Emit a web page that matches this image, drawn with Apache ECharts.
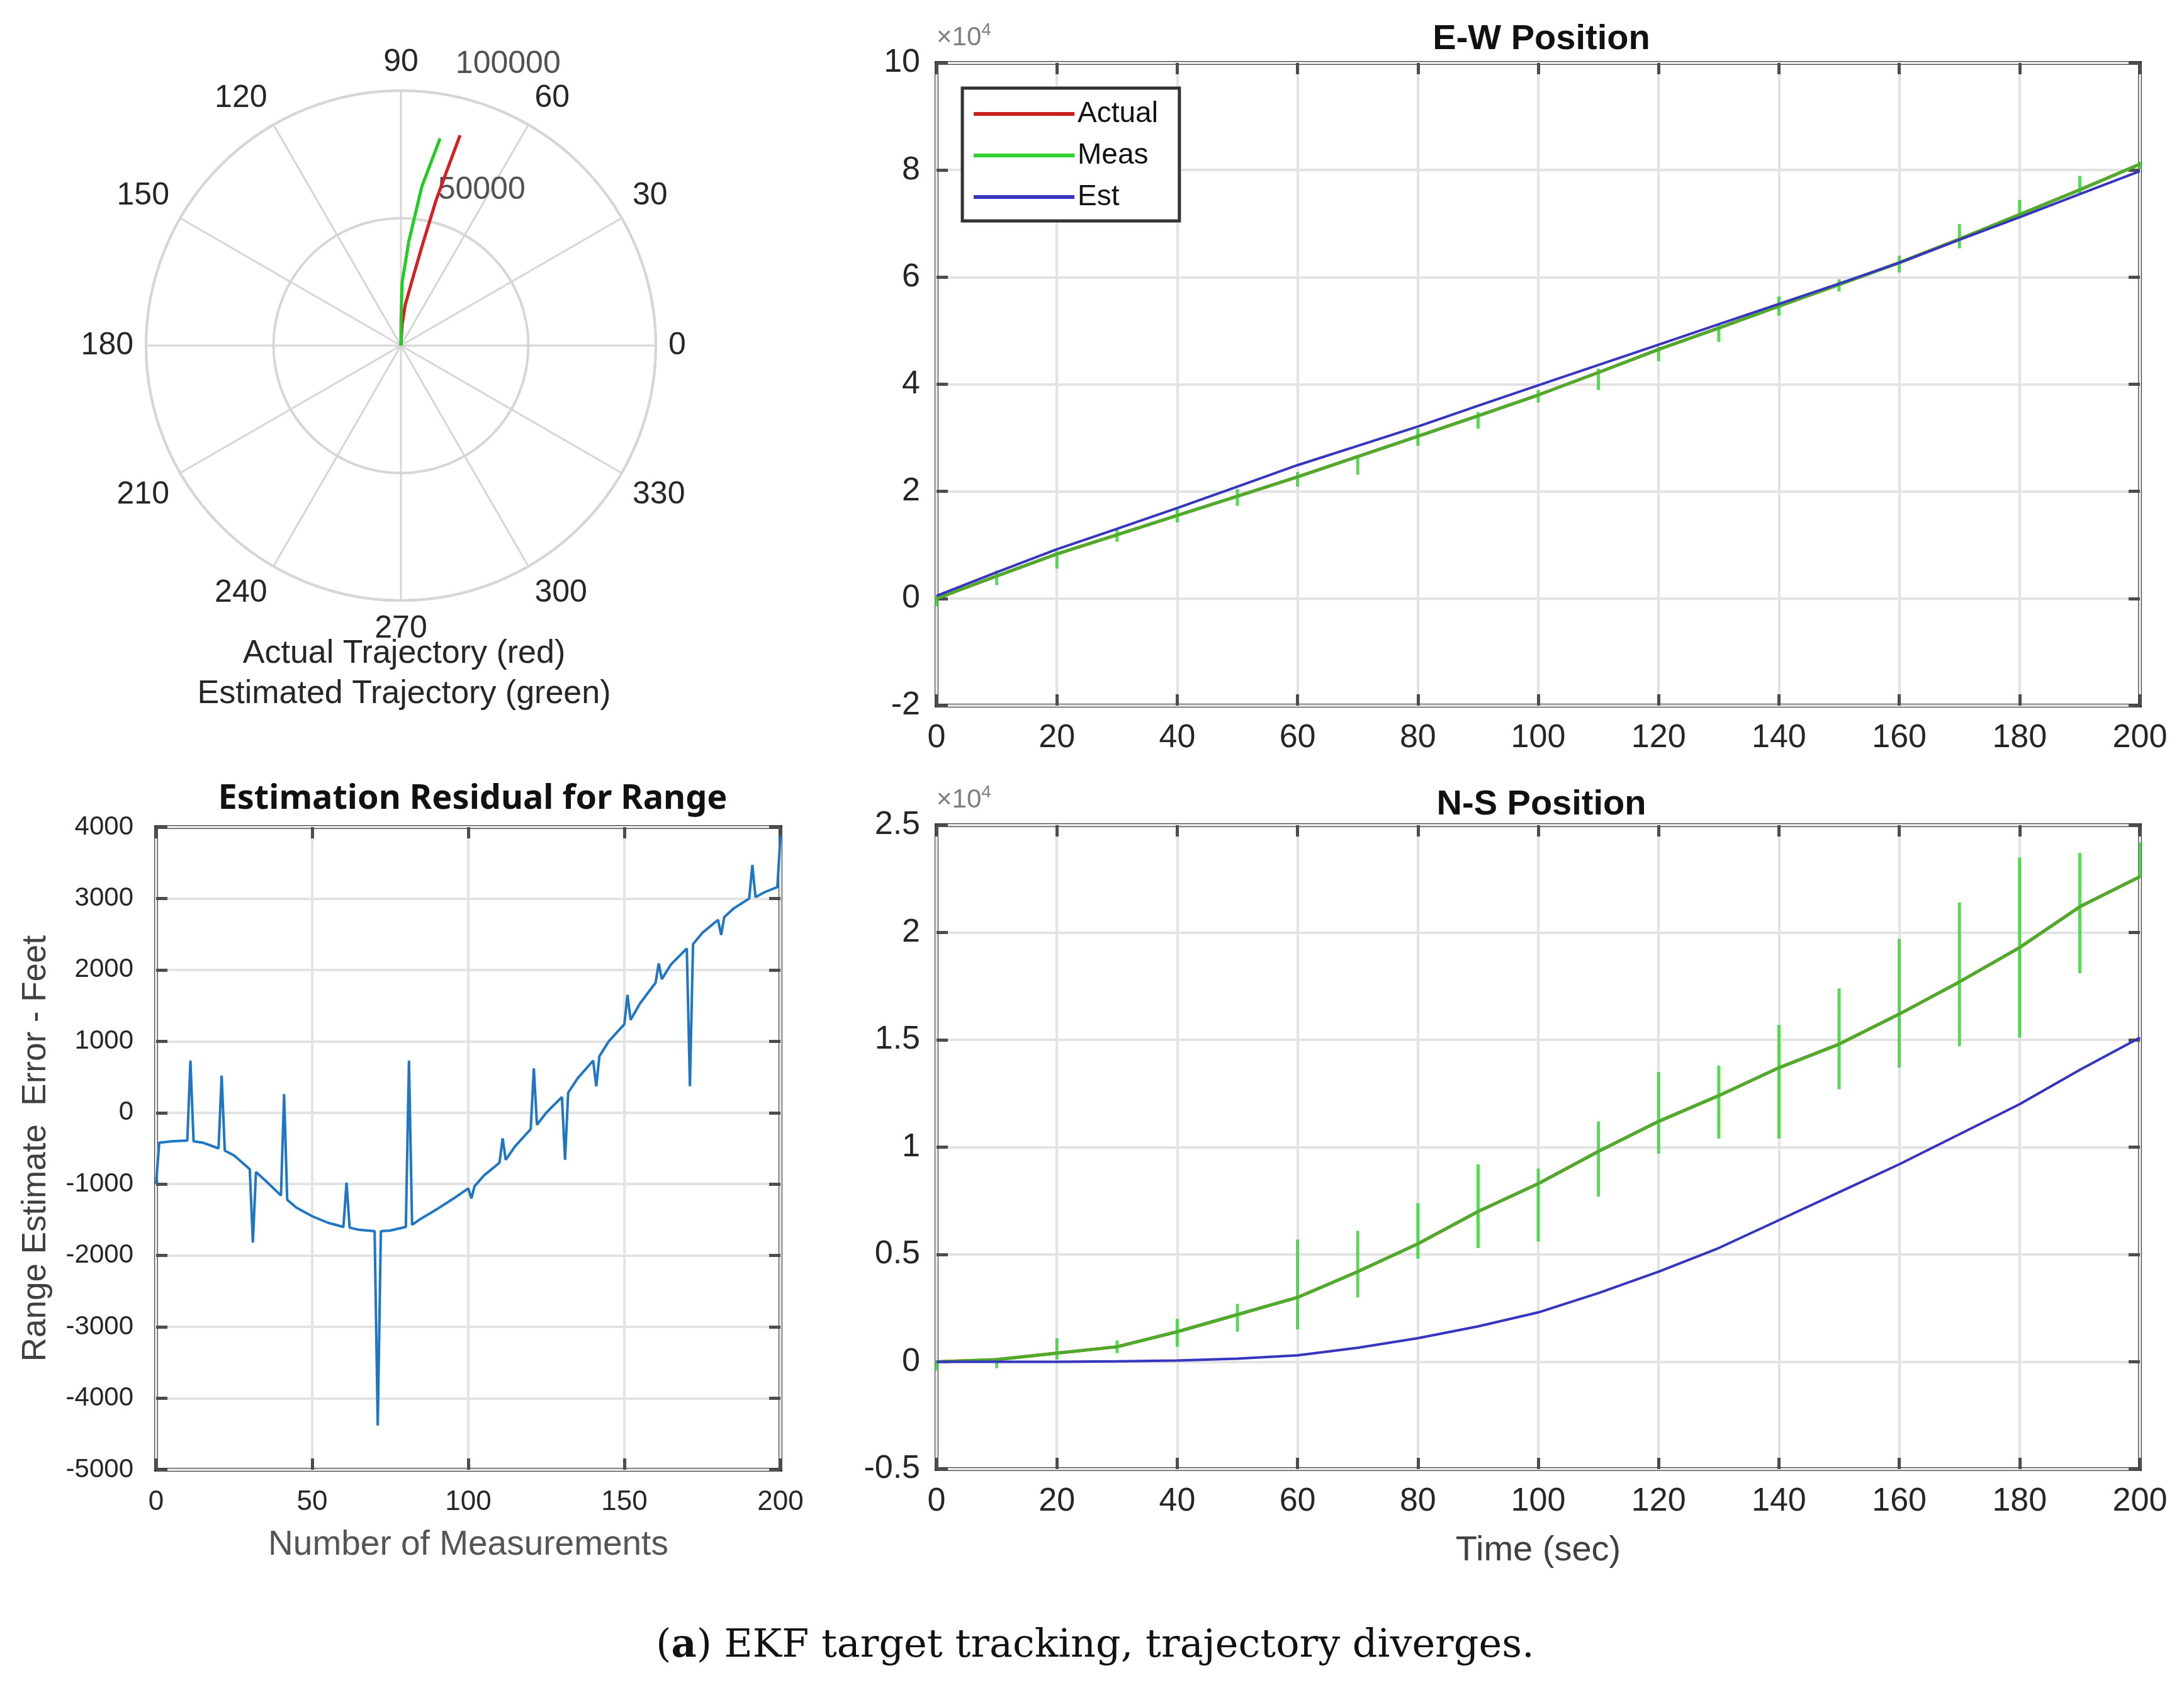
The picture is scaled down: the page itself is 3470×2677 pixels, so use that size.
<!DOCTYPE html>
<html>
<head>
<meta charset="utf-8">
<script src="https://cdn.jsdelivr.net/npm/echarts@6/dist/echarts.min.js"></script>
<style>
  html, body { margin: 0; padding: 0; background: #fff; }
  #chart { width: 3470px; height: 2677px; }
</style>
</head>
<body>
<div id="chart"></div>
<script>
// time axis shared by the E-W and N-S plots (sec)
const tSec = [0, 10, 20, 30, 40, 50, 60, 70, 80, 90, 100, 110, 120, 130, 140, 150, 160, 170, 180, 190, 200]

// E-W position, units of 1e4 ft
const ewActual = [0, 0.42, 0.83, 1.19, 1.55, 1.91, 2.27, 2.65, 3.03, 3.41, 3.80, 4.22, 4.65, 5.05, 5.46, 5.86, 6.27, 6.71, 7.17, 7.63, 8.11]
const ewMeasHi = [0.05, 0.52, 0.88, 1.28, 1.69, 2.04, 2.36, 2.67, 3.17, 3.48, 3.89, 4.29, 4.70, 5.10, 5.64, 5.96, 6.40, 6.99, 7.44, 7.89, 8.16]
const ewMeasLo = [-0.15, 0.25, 0.56, 1.06, 1.42, 1.73, 2.09, 2.31, 2.85, 3.17, 3.66, 3.89, 4.43, 4.79, 5.28, 5.73, 6.09, 6.54, 7.12, 7.57, 8.02]
const ewEst = [0.05, 0.49, 0.92, 1.30, 1.69, 2.09, 2.49, 2.85, 3.21, 3.60, 3.98, 4.36, 4.74, 5.12, 5.50, 5.88, 6.27, 6.70, 7.12, 7.55, 7.98]

// N-S position, units of 1e4 ft
const nsActual = [0, 0.01, 0.04, 0.07, 0.14, 0.22, 0.30, 0.42, 0.55, 0.70, 0.83, 0.98, 1.12, 1.24, 1.37, 1.48, 1.62, 1.77, 1.93, 2.12, 2.26]
const nsMeasHi = [0.0, 0.01, 0.11, 0.10, 0.20, 0.27, 0.57, 0.61, 0.74, 0.92, 0.90, 1.12, 1.35, 1.38, 1.57, 1.74, 1.97, 2.14, 2.35, 2.37, 2.42]
const nsMeasLo = [-0.04, -0.03, 0.01, 0.04, 0.07, 0.14, 0.15, 0.30, 0.48, 0.53, 0.56, 0.77, 0.97, 1.04, 1.04, 1.27, 1.37, 1.47, 1.51, 1.81, 2.26]
const nsEst = [0, 0, 0, 0.002, 0.006, 0.015, 0.03, 0.065, 0.11, 0.165, 0.23, 0.32, 0.42, 0.53, 0.66, 0.79, 0.92, 1.06, 1.20, 1.36, 1.51]

// range residual (ft) vs measurement number
const resIdx = [0, 1, 5, 10, 11, 12, 15, 20, 21, 22, 25, 30, 31, 32, 35, 40, 41, 42, 45, 50, 55, 60, 61, 62, 65, 70, 71, 72, 75, 80, 81, 82, 85, 90, 95, 100, 101, 102, 105, 110, 111, 112, 115, 120, 121, 122, 125, 130, 131, 132, 135, 140, 141, 142, 145, 150, 151, 152, 155, 160, 161, 162, 165, 170, 171, 172, 175, 180, 181, 182, 185, 190, 191, 192, 195, 199, 200]
const resVal = [-1000, -420, -400, -390, 730, -400, -420, -500, 520, -530, -600, -790, -1820, -830, -950, -1160, 260, -1220, -1330, -1450, -1540, -1600, -980, -1610, -1640, -1660, -4380, -1660, -1650, -1600, 730, -1570, -1480, -1350, -1210, -1060, -1200, -1030, -880, -700, -360, -660, -470, -230, 620, -170, 0, 220, -660, 280, 480, 730, 370, 790, 1000, 1240, 1650, 1300, 1530, 1820, 2090, 1870, 2080, 2300, 370, 2360, 2520, 2700, 2490, 2740, 2860, 3000, 3470, 3020, 3090, 3160, 3880]

// polar trajectories: radius (ft) and angle (deg)
const polActR = [0, 8000, 16000, 25000, 40000, 58700, 72000, 85700]
const polActA = [90, 87, 84, 80.5, 78, 76.4, 75.2, 74.3]
const polEstR = [0, 10000, 24500, 40900, 63000, 82700]
const polEstA = [90, 89.8, 89, 85.7, 82.5, 79.3]
const polRingLabels = [50000, 100000]

const frame = '#333333'
const gridClr = '#e3e3e3'
const tickClr = '#4d4d4d'
const labelClr = '#262626'
const sans = 'Liberation Sans, Arial, sans-serif'

const axisBase = (extra) => Object.assign({
  type: 'value',
  axisLine: { show: false, onZero: false },
  axisTick: { show: true, inside: true, length: 18, lineStyle: { color: tickClr, width: 5 } },
  splitLine: { show: false },
  axisLabel: { show: false },
}, extra)

const mainAxis = (extra, labelExtra) => axisBase(Object.assign({
  splitLine: { show: true, lineStyle: { color: gridClr, width: 4 } },
  axisLabel: Object.assign({ show: true, color: labelClr, fontSize: 52, fontFamily: sans, formatter: (v) => String(v) }, labelExtra),
}, extra))

const pairs = (xs, ys) => xs.map((x, i) => [x, ys[i]])
const measData = (base, hi, lo) => {
  const d = []
  tSec.forEach((t, i) => {
    d.push([t, base[i]], [t, hi[i]], [t, lo[i]], [t, base[i]])
  })
  return d
}
const x10name = {
  name: '×10{s|4}',
  nameLocation: 'end',
  nameGap: 14,
  nameTextStyle: {
    align: 'left', color: '#808080', fontSize: 42, fontFamily: sans,
    rich: { s: { fontSize: 28, color: '#808080', fontFamily: sans, padding: [0, 0, 24, 0] } },
  },
}

const chart = echarts.init(document.getElementById('chart'))
const option = {
  animation: false,
  backgroundColor: '#ffffff',
  textStyle: { fontFamily: sans },
  title: [
    { text: 'E-W Position', left: 2444, top: 30, textAlign: 'center', textStyle: { fontSize: 56, fontWeight: 'bold', color: '#111' } },
    { text: 'N-S Position', left: 2444, top: 1246, textAlign: 'center', textStyle: { fontSize: 56, fontWeight: 'bold', color: '#111' } },
    { text: 'Estimation Residual for Range', left: 746, top: 1238, textAlign: 'center', textStyle: { fontSize: 54, fontWeight: 'bold', color: '#111', fontFamily: 'Noto Sans' } },
    { text: 'Actual Trajectory (red)\nEstimated Trajectory (green)', left: 637, top: 1002, textAlign: 'center', textStyle: { fontSize: 52, fontWeight: 'normal', color: labelClr, lineHeight: 64 } },
    {
      text: '({b|a}) EKF target tracking, trajectory diverges.', left: 1735, top: 2580, textAlign: 'center',
      textStyle: { fontSize: 62, fontWeight: 'normal', color: '#111', fontFamily: 'DejaVu Serif', rich: { b: { fontSize: 62, fontWeight: 'bold', color: '#111', fontFamily: 'DejaVu Serif' } } },
    },
  ],
  legend: {
    data: ['Actual', 'Meas', 'Est'],
    orient: 'vertical',
    left: 1529,
    top: 140,
    padding: [15, 34, 12, 18],
    itemGap: 14,
    itemWidth: 160,
    itemHeight: 6,
    icon: 'rect',
    backgroundColor: '#fff',
    borderColor: frame,
    borderWidth: 5,
    borderRadius: 0,
    textStyle: { fontSize: 46, lineHeight: 52, color: '#111', fontFamily: sans },
  },
  grid: [
    { left: 1488, right: 70, top: 100, bottom: 1556, show: true, borderColor: frame, borderWidth: 6 },
    { left: 1488, right: 70, top: 1311, bottom: 343, show: true, borderColor: frame, borderWidth: 6 },
    { left: 248, right: 2230, top: 1314, bottom: 342, show: true, borderColor: frame, borderWidth: 6 },
  ],
  xAxis: [
    mainAxis({ gridIndex: 0, position: 'bottom', min: 0, max: 200, interval: 20 }, { margin: 26 }),
    axisBase({ gridIndex: 0, position: 'top', min: 0, max: 200, interval: 20 }),
    mainAxis({
      gridIndex: 1, position: 'bottom', min: 0, max: 200, interval: 20,
      name: 'Time (sec)', nameLocation: 'middle', nameGap: 102,
      nameTextStyle: { fontSize: 56, color: '#404040', fontFamily: sans },
    }, { margin: 26 }),
    axisBase({ gridIndex: 1, position: 'top', min: 0, max: 200, interval: 20 }),
    mainAxis({
      gridIndex: 2, position: 'bottom', min: 0, max: 200, interval: 50,
      name: 'Number of Measurements', nameLocation: 'middle', nameGap: 92,
      nameTextStyle: { fontSize: 55, color: '#555', fontFamily: sans },
    }, { margin: 30, fontSize: 44 }),
    axisBase({ gridIndex: 2, position: 'top', min: 0, max: 200, interval: 50 }),
  ],
  yAxis: [
    mainAxis(Object.assign({ gridIndex: 0, position: 'left', min: -2, max: 10, interval: 2 }, x10name), { margin: 26 }),
    axisBase({ gridIndex: 0, position: 'right', min: -2, max: 10, interval: 2 }),
    mainAxis(Object.assign({ gridIndex: 1, position: 'left', min: -0.5, max: 2.5, interval: 0.5 }, x10name), { margin: 26 }),
    axisBase({ gridIndex: 1, position: 'right', min: -0.5, max: 2.5, interval: 0.5 }),
    mainAxis({
      gridIndex: 2, position: 'left', min: -5000, max: 4000, interval: 1000,
      name: 'Range Estimate  Error - Feet', nameLocation: 'middle', nameGap: 164, nameRotate: 90,
      nameTextStyle: { fontSize: 53, color: '#404040', fontFamily: sans },
    }, { margin: 36, fontSize: 42 }),
    axisBase({ gridIndex: 2, position: 'right', min: -5000, max: 4000, interval: 1000 }),
  ],
  polar: { center: [637, 549], radius: 405 },
  angleAxis: {
    type: 'value',
    min: 0,
    max: 360,
    interval: 30,
    startAngle: 0,
    clockwise: false,
    axisLine: { show: true, lineStyle: { color: '#d6d6d6', width: 4 } },
    axisTick: { show: false },
    splitLine: { show: true, lineStyle: { color: '#d6d6d6', width: 3 } },
    axisLabel: {
      margin: 20, fontSize: 50, color: labelClr, fontFamily: sans,
      formatter: (v) => (v === 360 ? '' : String(v)),
    },
  },
  radiusAxis: {
    type: 'value',
    min: 0,
    max: 100000,
    interval: 50000,
    axisLine: { show: false },
    axisTick: { show: false },
    axisLabel: { show: false },
    splitLine: { show: true, lineStyle: { color: '#d6d6d6', width: 4 } },
  },
  series: [
    {
      name: 'Actual', type: 'line', xAxisIndex: 0, yAxisIndex: 0, showSymbol: false,
      color: '#c81e1e', lineStyle: { width: 5 }, data: pairs(tSec, ewActual),
    },
    {
      name: 'Meas', type: 'line', xAxisIndex: 0, yAxisIndex: 0, showSymbol: false,
      color: '#2ed12e', lineStyle: { width: 5, opacity: 0.8 }, data: measData(ewActual, ewMeasHi, ewMeasLo),
    },
    {
      name: 'Est', type: 'line', xAxisIndex: 0, yAxisIndex: 0, showSymbol: false,
      color: '#3535c0', lineStyle: { width: 4 }, data: pairs(tSec, ewEst),
    },
    {
      name: 'Actual', type: 'line', xAxisIndex: 2, yAxisIndex: 2, showSymbol: false,
      color: '#c81e1e', lineStyle: { width: 5 }, data: pairs(tSec, nsActual),
    },
    {
      name: 'Meas', type: 'line', xAxisIndex: 2, yAxisIndex: 2, showSymbol: false,
      color: '#2ed12e', lineStyle: { width: 5, opacity: 0.8 }, data: measData(nsActual, nsMeasHi, nsMeasLo),
    },
    {
      name: 'Est', type: 'line', xAxisIndex: 2, yAxisIndex: 2, showSymbol: false,
      color: '#3535c0', lineStyle: { width: 4 }, data: pairs(tSec, nsEst),
    },
    {
      name: 'Residual', type: 'line', xAxisIndex: 4, yAxisIndex: 4, showSymbol: false,
      color: '#1f77c4', lineStyle: { width: 4 }, data: pairs(resIdx, resVal),
    },
    {
      name: 'Actual Trajectory', type: 'line', coordinateSystem: 'polar', showSymbol: false,
      color: '#d42020', lineStyle: { width: 5 }, data: pairs(polActR, polActA),
    },
    {
      name: 'Estimated Trajectory', type: 'line', coordinateSystem: 'polar', showSymbol: false,
      color: '#22cc22', lineStyle: { width: 5 }, data: pairs(polEstR, polEstA),
    },
    {
      name: 'Ring labels', type: 'scatter', coordinateSystem: 'polar', symbolSize: 1,
      itemStyle: { color: 'rgba(0,0,0,0)' },
      label: {
        show: true, position: 'right', distance: 0, offset: [30, -46],
        fontSize: 50, color: labelClr, fontFamily: sans,
        formatter: (p) => String(p.value[0]),
      },
      data: polRingLabels.map((r) => [r, 82]),
    },
  ],
}
chart.setOption(option)
</script>
</body>
</html>
